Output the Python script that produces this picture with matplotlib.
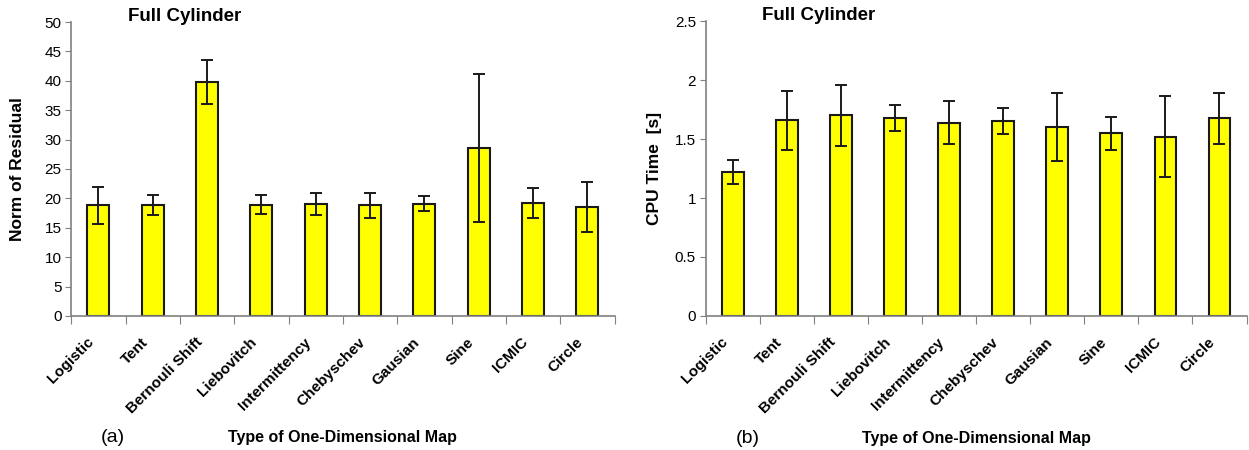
import numpy as np
import matplotlib.pyplot as plt
import matplotlib.transforms as mtransforms

plt.rcParams['font.family'] = ['Liberation Sans', 'DejaVu Sans']

maps = ["Logistic", "Tent", "Bernouli Shift", "Liebovitch", "Intermittency",
        "Chebyschev", "Gausian", "Sine", "ICMIC", "Circle"]

# (a) norm of residual
residual = [18.8, 18.9, 39.8, 18.9, 19.1, 18.8, 19.1, 28.6, 19.2, 18.5]
residual_err = [3.1, 1.7, 3.7, 1.6, 1.85, 2.1, 1.25, 12.6, 2.55, 4.2]

# (b) cpu time
cpu = [1.22, 1.66, 1.70, 1.68, 1.64, 1.65, 1.60, 1.55, 1.52, 1.675]
cpu_err = [0.10, 0.25, 0.26, 0.11, 0.18, 0.11, 0.29, 0.14, 0.345, 0.215]

fig = plt.figure(figsize=(12.49, 4.5), dpi=100)
ax1 = fig.add_axes([0.057, 0.298, 0.435, 0.653])
ax2 = fig.add_axes([0.565, 0.298, 0.433, 0.655])

x = np.arange(len(maps))


def draw(ax, vals, errs, ymax, ystep, ylabel, letter, lx):
    ax.bar(x, vals, width=0.4, color="#ffff00", edgecolor="#1a1a1a",
           linewidth=1.5, zorder=2)
    ax.errorbar(x, vals, yerr=errs, fmt="none", ecolor="#1a1a1a",
                elinewidth=1.4, capsize=4.5, capthick=1.4, zorder=3)
    ax.set_xlim(-0.5, len(maps) - 0.5)
    ax.set_ylim(0, ymax)
    yt = np.arange(0, ymax + ystep / 2, ystep)
    ax.set_yticks(yt)
    ax.set_yticklabels([f"{v:g}" for v in yt], fontsize=11)
    # ticks sit between categories, labels are drawn separately
    ax.set_xticks(np.arange(-0.5, len(maps), 1.0))
    ax.set_xticklabels([])
    trans = ax.get_xaxis_transform() + mtransforms.ScaledTranslation(
        -0.07, -0.24, fig.dpi_scale_trans)
    for xi, name in zip(x, maps):
        ax.text(xi, 0, name, transform=trans, rotation=45, ha="right",
                va="center", rotation_mode="anchor", fontsize=11,
                fontweight="bold")
    ax.tick_params(axis="x", length=6, color="#808080")
    ax.tick_params(axis="y", length=4, color="#808080", pad=3)
    for s in ["top", "right"]:
        ax.spines[s].set_visible(False)
    for s in ["left", "bottom"]:
        ax.spines[s].set_color("#808080")
        ax.spines[s].set_linewidth(1.2)
    ax.set_ylabel(ylabel, fontsize=12.5, fontweight="bold")
    ax.yaxis.set_label_coords(lx, 0.5)
    ax.text(0.105, 0.99, "Full Cylinder", transform=ax.transAxes,
            fontsize=13.5, fontweight="bold", va="bottom")
    ax.text(0.077, -0.415, letter, transform=ax.transAxes, fontsize=14,
            va="center", ha="center")
    ax.text(0.5, -0.415, "Type of One-Dimensional Map", transform=ax.transAxes,
            fontsize=11.5, fontweight="bold", ha="center", va="center")


draw(ax1, residual, residual_err, 50, 5, "Norm of Residual", "(a)", -0.085)
draw(ax2, cpu, cpu_err, 2.5, 0.5, "CPU Time  [s]", "(b)", -0.08)

fig.savefig("out.png", dpi=100)
